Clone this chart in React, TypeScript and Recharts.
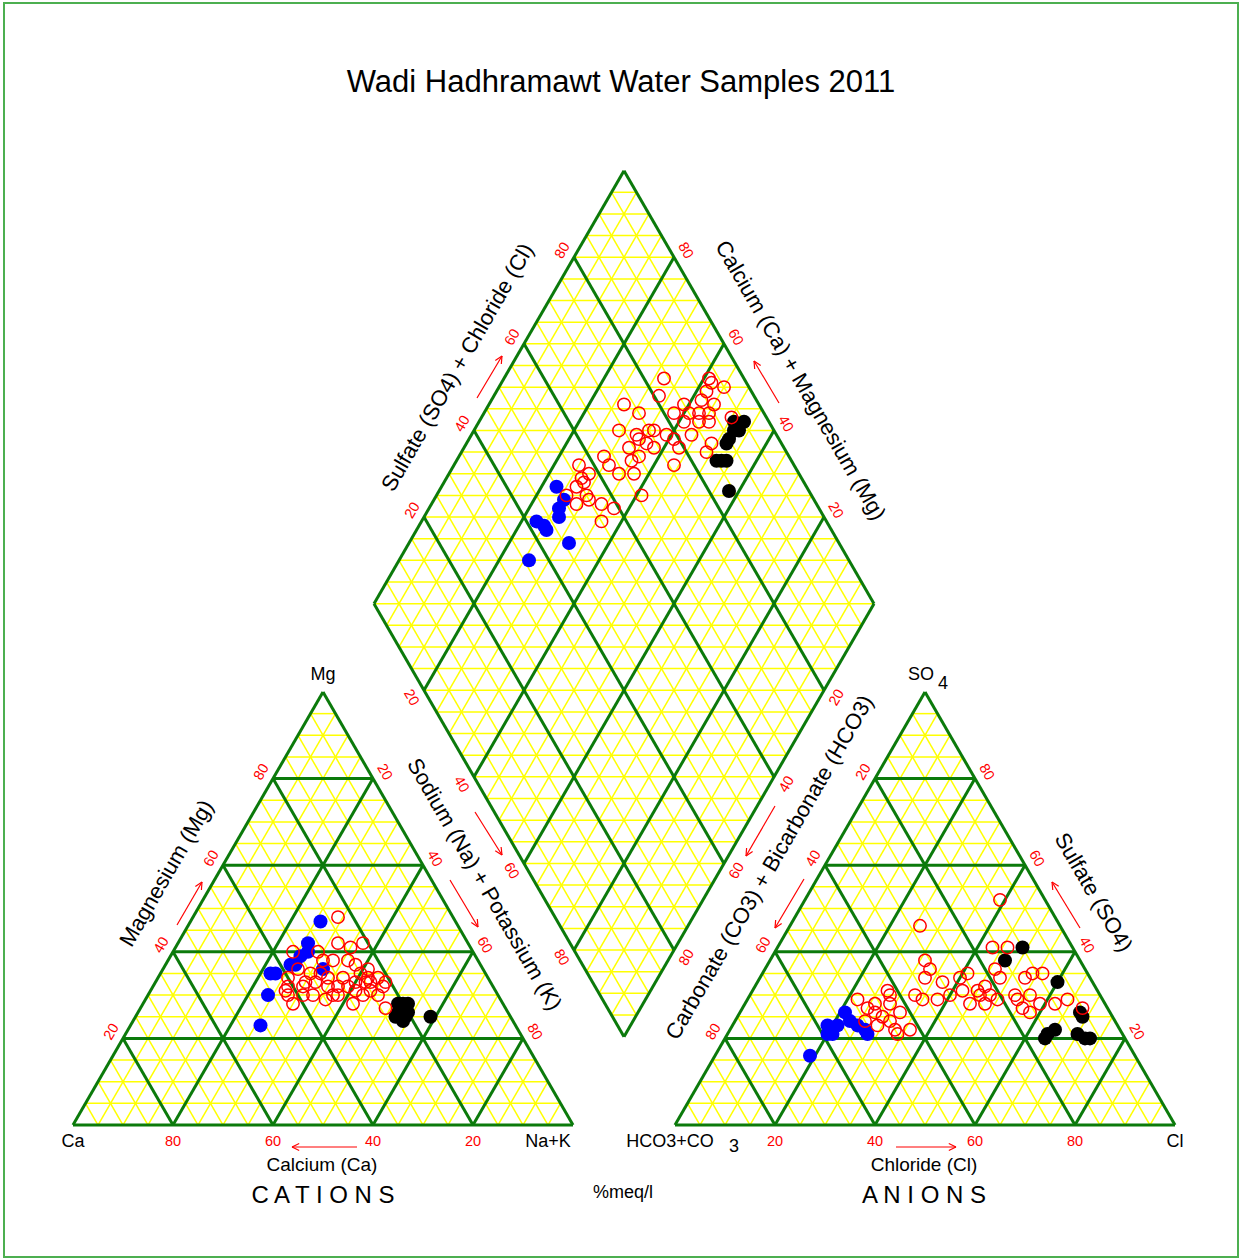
import { ReferenceArea, ReferenceDot, ReferenceLine, Scatter, ScatterChart, XAxis, YAxis } from "recharts";

// cation triangle samples: [Ca, Mg, Na+K] in %meq/l
const cationRed: number[][] = [
  [23, 48, 29], [26, 42, 32], [24, 41, 35], [21, 42, 37], [26, 38, 36], [25, 37, 38], [23, 36, 41],
  [36, 40, 24], [31, 40, 29], [31, 38, 31], [29, 38, 33], [37, 36, 27], [35, 35, 30], [33, 35, 32],
  [32, 34, 34], [40, 34, 26], [41, 32, 27], [42, 31, 27], [38, 32, 30], [37, 33, 30], [35, 33, 32],
  [33, 32, 35], [31, 32, 37], [42, 28, 30], [35, 29, 36], [32, 30, 38], [27, 33, 40], [28, 31, 41],
  [30, 28, 42], [25, 33, 42], [24, 34, 42], [24, 33, 43], [22, 34, 44], [21, 33, 46], [25, 31, 44],
  [24, 30, 46], [22, 32, 46], [27, 30, 43], [29, 32, 39], [25, 35, 40], [24, 27, 49], [37, 30, 33],
  [29, 34, 37], [33, 30, 37], [39, 30, 31], [42, 30, 28],
];
const cationBlue: number[][] = [
  [27, 47, 26], [32, 42, 26], [33, 40, 27], [35, 39, 26], [37, 37, 26], [38, 37, 25],
  [42, 35, 23], [43, 35, 22], [46, 30, 24], [51, 23, 26], [32, 36, 32],
];
const cationBlack: number[][] = [
  [21, 28, 51], [20, 28, 52], [19, 28, 53], [21, 27, 52], [20, 26, 54],
  [22, 26, 52], [22, 24, 54], [23, 25, 52], [21, 25, 54], [16, 25, 59],
];

// anion triangle samples: [HCO3+CO3, SO4, Cl]
const anionRed: number[][] = [
  [9, 52, 39], [28, 46, 26], [16, 41, 43], [13, 41, 46], [31, 38, 31], [31, 36, 33], [33, 34, 33],
  [30, 33, 37], [24, 35, 41], [26, 34, 40], [18, 36, 46], [18, 34, 48], [13, 34, 53], [11, 35, 54],
  [9, 35, 56], [37, 30, 33], [36, 29, 35], [33, 29, 38], [30, 30, 40], [27, 31, 42], [24, 31, 45],
  [22, 32, 46], [24, 30, 46], [22, 30, 48], [21, 29, 50], [27, 28, 45], [24, 28, 48], [17, 30, 53],
  [17, 29, 54], [14, 30, 56], [13, 28, 59], [10, 28, 62], [7, 29, 64], [5, 27, 68], [16, 26, 58],
  [17, 27, 56], [49, 29, 22], [48, 27, 25], [46, 28, 26], [42, 31, 27], [42, 30, 28], [43, 28, 29],
  [42, 26, 32], [47, 26, 27], [46, 25, 29], [45, 24, 31], [45, 22, 33], [42, 22, 36], [45, 21, 34],
  [50, 24, 26], [48, 23, 29],
];
const anionBlue: number[][] = [
  [65, 16, 19], [58, 23, 19], [59, 21, 20], [58, 21, 21], [53, 26, 21],
  [53, 24, 23], [52, 23, 25], [51, 22, 27], [51, 21, 28], [56, 23, 21],
];
const anionBlack: number[][] = [
  [10, 41, 49], [15, 38, 47], [7, 33, 60], [6, 25, 69], [6, 26, 68], [15, 21, 64],
  [13, 22, 65], [16, 20, 64], [9, 21, 70], [8, 20, 72], [7, 20, 73],
];

// diamond samples: [SO4+Cl, Ca+Mg]
const diamondRed: number[][] = [
  [84, 68], [93, 59], [93, 58], [95, 55], [91, 58], [81, 67], [73, 73], [75, 69], [85, 61], [82, 62],
  [85, 59], [87, 57], [89, 55], [91, 55], [89, 58], [83, 59], [86, 56], [88, 54], [93, 50], [69, 71],
  [72, 67], [75, 65], [76, 64], [78, 61], [79, 59], [83, 56], [69, 67], [72, 66], [73, 64], [74, 62],
  [79, 57], [86, 51], [84, 51], [68, 65], [70, 64], [76, 56], [63, 71], [63, 69], [57, 75], [58, 72],
  [56, 73], [56, 72], [54, 73], [51, 74], [55, 70], [52, 71], [55, 69], [57, 66], [59, 63], [55, 64],
  [64, 66], [67, 63], [66, 59],
];
const diamondBlue: number[][] = [
  [36, 74], [50, 77], [50, 74], [48, 74], [47, 73], [42, 77], [43, 75], [43, 74], [46, 68],
];
const diamondBlack: number[][] = [
  [84, 42], [85, 48], [86, 47], [87, 46], [90, 48], [92, 48], [93, 48], [95, 47], [93, 49], [93, 47], [89, 48],
];

const TICKS = [20, 40, 60, 80];

// layout
const W = 1239;
const H = 1259;
const SIDE = 500;
const TH = (SIDE * Math.sqrt(3)) / 2;
const BASE_Y = 1125;
const CAT_X = 73;
const AN_X = 675;
const DIA_X = (CAT_X + SIDE + AN_X) / 2;
const DIA_Y = BASE_Y - ((AN_X - CAT_X - SIDE) / 2) * Math.sqrt(3);
const GREEN = "#0b7a0b";
const YELLOW = "#ffff00";
const RED = "#ff0000";

type Pt = { x: number; y: number };
const catPt = (ca: number, mg: number, nak: number): Pt => ({
  x: CAT_X + (SIDE * (nak + mg / 2)) / 100,
  y: BASE_Y - (TH * mg) / 100,
});
const anPt = (hco3: number, so4: number, cl: number): Pt => ({
  x: AN_X + (SIDE * (cl + so4 / 2)) / 100,
  y: BASE_Y - (TH * so4) / 100,
});
const diaPt = (a: number, c: number): Pt => ({
  x: DIA_X + (SIDE * (a - c)) / 200,
  y: DIA_Y - (TH * (a + c)) / 100,
});

type Seg = { a: Pt; b: Pt; major: boolean };
function triSegs(pt: (p: number, q: number, r: number) => Pt): Seg[] {
  const out: Seg[] = [];
  for (let p = 5; p < 100; p += 5) {
    const major = p % 20 === 0;
    out.push({ a: pt(100 - p, p, 0), b: pt(0, p, 100 - p), major });
    out.push({ a: pt(100 - p, 0, p), b: pt(0, 100 - p, p), major });
    out.push({ a: pt(p, 100 - p, 0), b: pt(p, 0, 100 - p), major });
  }
  out.push({ a: pt(100, 0, 0), b: pt(0, 0, 100), major: true });
  out.push({ a: pt(0, 0, 100), b: pt(0, 100, 0), major: true });
  out.push({ a: pt(0, 100, 0), b: pt(100, 0, 0), major: true });
  return out;
}
function diaSegs(): Seg[] {
  const out: Seg[] = [];
  for (let p = 0; p <= 100; p += 5) {
    const major = p % 20 === 0 || p === 100;
    out.push({ a: diaPt(p, 0), b: diaPt(p, 100), major });
    out.push({ a: diaPt(0, p), b: diaPt(100, p), major });
  }
  for (let s = 5; s < 200; s += 5) {
    if (s <= 100) out.push({ a: diaPt(s, 0), b: diaPt(0, s), major: false });
    else out.push({ a: diaPt(100, s - 100), b: diaPt(s - 100, 100), major: false });
  }
  return out;
}
const segs = [...triSegs(catPt), ...triSegs(anPt), ...diaSegs()];

const ARROWS = [
  [177, 925, 202, 882], [450, 880, 478, 927], [475, 812, 502, 855], [357, 1147, 292, 1147],
  [896, 1147, 956, 1147], [477, 398, 502, 356], [779, 403, 754, 361], [775, 806, 746, 856],
  [804, 879, 775, 928], [1080, 928, 1052, 882],
];
const arrowSegs: [Pt, Pt][] = ARROWS.flatMap(([x1, y1, x2, y2]) => {
  const len = Math.hypot(x1 - x2, y1 - y2);
  const ux = (x1 - x2) / len;
  const uy = (y1 - y2) / len;
  const barb = (ang: number): Pt => ({
    x: x2 + 8 * (ux * Math.cos(ang) - uy * Math.sin(ang)),
    y: y2 + 8 * (ux * Math.sin(ang) + uy * Math.cos(ang)),
  });
  return [
    [{ x: x1, y: y1 }, { x: x2, y: y2 }],
    [{ x: x2, y: y2 }, barb(0.45)],
    [{ x: x2, y: y2 }, barb(-0.45)],
  ] as [Pt, Pt][];
});

type Txt = { x: number; y: number; text: string; angle?: number; size: number; color?: string };
const off = (p: Pt, nx: number, ny: number, d = 14): Pt => ({ x: p.x + nx * d, y: p.y + ny * d });
const tickTexts: Txt[] = TICKS.flatMap((v) => {
  const t = String(v);
  const list: [Pt, number][] = [
    [{ x: catPt(v, 0, 100 - v).x, y: BASE_Y + 16 }, 0],
    [off(catPt(100 - v, v, 0), -0.866, -0.5), -60],
    [off(catPt(0, 100 - v, v), 0.866, -0.5), 60],
    [{ x: anPt(100 - v, 0, v).x, y: BASE_Y + 16 }, 0],
    [off(anPt(v, 100 - v, 0), -0.866, -0.5), -60],
    [off(anPt(0, v, 100 - v), 0.866, -0.5), 60],
    [off(diaPt(v, 100), -0.866, -0.5), -60],
    [off(diaPt(0, 100 - v), -0.866, 0.5), 60],
    [off(diaPt(100, v), 0.866, -0.5), 60],
    [off(diaPt(100 - v, 0), 0.866, 0.5), -60],
  ];
  return list.map(([p, angle]) => ({ ...p, text: t, angle, size: 14.5, color: RED }));
});
const texts: Txt[] = [
  { x: 621, y: 81, text: "Wadi Hadhramawt Water Samples 2011", size: 31 },
  { x: 323, y: 674, text: "Mg", size: 18 },
  { x: 73, y: 1141, text: "Ca", size: 18 },
  { x: 548, y: 1141, text: "Na+K", size: 18 },
  { x: 670, y: 1141, text: "HCO3+CO", size: 18 },
  { x: 734, y: 1146, text: "3", size: 18 },
  { x: 921, y: 674, text: "SO", size: 18 },
  { x: 943, y: 683, text: "4", size: 18 },
  { x: 1175, y: 1141, text: "Cl", size: 18 },
  { x: 322, y: 1164, text: "Calcium (Ca)", size: 19 },
  { x: 924, y: 1164, text: "Chloride (Cl)", size: 19 },
  { x: 323, y: 1194, text: "C A T I O N S", size: 24 },
  { x: 924, y: 1194, text: "A N I O N S", size: 24 },
  { x: 623, y: 1192, text: "%meq/l", size: 18 },
  { x: 166, y: 873, text: "Magnesium (Mg)", angle: -60, size: 22 },
  { x: 485, y: 884, text: "Sodium (Na) + Potassium (K)", angle: 60, size: 22 },
  { x: 457, y: 367, text: "Sulfate (SO4) + Chloride (Cl)", angle: -60, size: 22 },
  { x: 801, y: 380, text: "Calcium (Ca) + Magnesium (Mg)", angle: 60, size: 22 },
  { x: 769, y: 867, text: "Carbonate (CO3) + Bicarbonate (HCO3)", angle: -60, size: 22 },
  { x: 1094, y: 892, text: "Sulfate (SO4)", angle: 60, size: 22 },
  ...tickTexts,
];

const toCat = (rows: number[][]) => rows.map(([a, b, c]) => catPt(a, b, c));
const toAn = (rows: number[][]) => rows.map(([a, b, c]) => anPt(a, b, c));
const toDia = (rows: number[][]) => rows.map(([a, c]) => diaPt(a, c));

const openCircle = (p: any) => (
  <circle cx={p.cx} cy={p.cy} r={6.2} fill="none" stroke={RED} strokeWidth={1.5} />
);
const filled = (color: string) => (p: any) => <circle cx={p.cx} cy={p.cy} r={7} fill={color} />;

const groups = [
  { key: "cb", data: toCat(cationBlue), shape: filled("#0000ff") },
  { key: "ck", data: toCat(cationBlack), shape: filled("#000000") },
  { key: "ab", data: toAn(anionBlue), shape: filled("#0000ff") },
  { key: "ak", data: toAn(anionBlack), shape: filled("#000000") },
  { key: "db", data: toDia(diamondBlue), shape: filled("#0000ff") },
  { key: "dk", data: toDia(diamondBlack), shape: filled("#000000") },
  { key: "cr", data: toCat(cationRed), shape: openCircle },
  { key: "ar", data: toAn(anionRed), shape: openCircle },
  { key: "dr", data: toDia(diamondRed), shape: openCircle },
];

export default function App() {
  return (
    <div
      style={{
        position: "absolute",
        left: 0,
        top: 0,
        width: W,
        height: H,
        background: "#fff",
        fontFamily: "'Liberation Sans', Arial, sans-serif",
      }}
    >
      <ScatterChart width={W} height={H} margin={{ top: 0, right: 0, bottom: 0, left: 0 }}>
        <XAxis type="number" dataKey="x" domain={[0, W]} hide allowDataOverflow />
        <YAxis type="number" dataKey="y" domain={[0, H]} reversed hide allowDataOverflow />
        <ReferenceArea x1={4} x2={1238} y1={3} y2={1257} fill="none" stroke="#4caf50" strokeWidth={2} />
        {segs
          .filter((s) => !s.major)
          .map((s, i) => (
            <ReferenceLine key={"y" + i} segment={[s.a, s.b]} stroke={YELLOW} strokeWidth={1.5} ifOverflow="visible" />
          ))}
        {segs
          .filter((s) => s.major)
          .map((s, i) => (
            <ReferenceLine key={"g" + i} segment={[s.a, s.b]} stroke={GREEN} strokeWidth={3} ifOverflow="visible" />
          ))}
        {arrowSegs.map((s, i) => (
          <ReferenceLine key={"a" + i} segment={s} stroke={RED} strokeWidth={1.2} ifOverflow="visible" />
        ))}
        {groups.map((g) => (
          <Scatter key={g.key} data={g.data} shape={g.shape} isAnimationActive={false} />
        ))}
        {texts.map((t, i) => (
          <ReferenceDot
            key={"t" + i}
            x={t.x}
            y={t.y}
            r={0}
            fill="none"
            stroke="none"
            ifOverflow="visible"
            label={{
              value: t.text,
              position: "center",
              angle: t.angle ?? 0,
              fill: t.color ?? "#000",
              fontSize: t.size,
            }}
          />
        ))}
      </ScatterChart>
    </div>
  );
}
